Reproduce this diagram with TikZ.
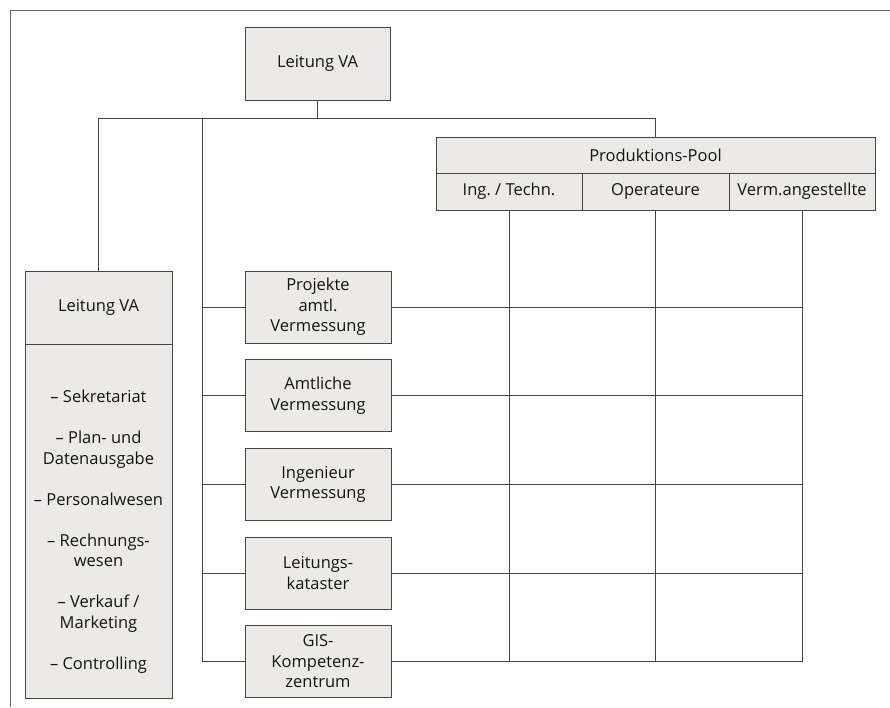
\documentclass[tikz,border=0pt]{standalone}
\usepackage{fontspec}
\setmainfont{Open Sans}
\frenchspacing
\definecolor{boxfill}{HTML}{EBEAE7}
\definecolor{edge}{HTML}{454545}
\definecolor{txt}{HTML}{141414}
\definecolor{framec}{HTML}{6A6A6A}
\begin{document}
\begin{tikzpicture}[x=1pt,y=-1pt,
  box/.style={draw=edge,line width=0.9pt,fill=boxfill,inner sep=0pt,align=center,
    text=txt,font=\fontsize{16.5}{20.5}\selectfont},
  conn/.style={draw=edge,line width=0.8pt}]
\useasboundingbox (0,0) rectangle (890,707);
\draw[framec,line width=0.8pt] (890,10) -- (10,10) -- (10,707);
% top
\node[box,minimum width=145pt,minimum height=73pt] (top) at (317.5,63.5) {Leitung VA};
% left
\node[box,minimum width=147pt,minimum height=73pt] (lhead) at (98.5,307.5) {Leitung VA};
\node[box,minimum width=147pt,minimum height=354pt,anchor=north] (lbody) at (lhead.south) {};
\node[text=txt,align=center,font=\fontsize{16.5}{20.5}\selectfont] (litems) at (98.5,531.5)
 {-- Sekretariat\\[20.5pt]-- Plan- und\\Datenausgabe\\[20.5pt]-- Personalwesen\\[20.5pt]-- Rechnungs-\\wesen\\[20.5pt]-- Verkauf /\\Marketing\\[20.5pt]-- Controlling};
% middle
\tikzset{mid/.style={box,minimum width=146pt,minimum height=72pt}}
\node[mid] (m1) at (318,307) {Projekte\\amtl.\\Vermessung};
\node[mid] (m2) at (318,395.5) {Amtliche\\Vermessung};
\node[mid] (m3) at (318,484.5) {Ingenieur\\Vermessung};
\node[mid] (m4) at (318,573) {Leitungs-\\kataster};
\node[mid] (m5) at (318,661.5) {GIS-\\Kompetenz-\\zentrum};
% pool
\node[box,minimum width=439pt,minimum height=36pt] (pool) at (655.5,155) {Produktions-Pool};
\node[box,minimum width=146pt,minimum height=37pt] (c1) at (509,191.5) {Ing. / Techn.};
\node[box,minimum width=147pt,minimum height=37pt] (c2) at (655.5,191.5) {Operateure};
\node[box,minimum width=146pt,minimum height=37pt] (c3) at (802,191.5) {Verm.angestellte};
% connectors
\coordinate (busL) at (98.5,118);
\coordinate (busR) at (655.5,118);
\coordinate (spine) at (202,118);
\draw[conn] (top.south) -- (top.south |- busL);
\draw[conn] (lhead.north) -- (busL) -- (busR) -- (pool.north);
\draw[conn] (spine) |- (m5.west);
\foreach \m in {m1,m2,m3,m4}{\draw[conn] (spine |- \m.west) -- (\m.west);}
\foreach \m in {m1,m2,m3,m4,m5}{\draw[conn] (\m.east) -- (\m.east -| c3.south);}
\foreach \c in {c1,c2,c3}{\draw[conn] (\c.south) -- (\c.south |- m5.east);}
\end{tikzpicture}
\end{document}
